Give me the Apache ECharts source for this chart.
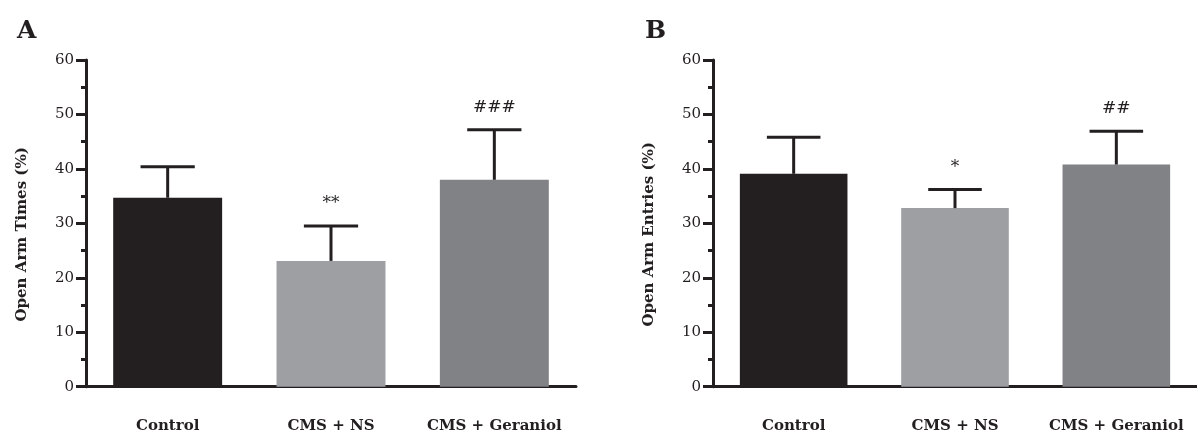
<!DOCTYPE html>
<html>
<head>
<meta charset="utf-8">
<script src="https://cdn.jsdelivr.net/npm/echarts@6/dist/echarts.min.js"></script>
<style>
  html, body { margin: 0; padding: 0; background: #fff; }
  #chart { width: 1197px; height: 436px; }
</style>
</head>
<body>
<div id="chart"></div>
<script>
// ---- data ----
const categories = ['Control', 'CMS + NS', 'CMS + Geraniol'];
const yTicks = [0, 10, 20, 30, 40, 50, 60];

const timesMean = [34.7, 23.1, 38.0];
const timesErrTop = [40.4, 29.5, 47.2];
const timesSig = ['', '**', '###'];

const entriesMean = [39.1, 32.8, 40.8];
const entriesErrTop = [45.8, 36.2, 46.9];
const entriesSig = ['', '*', '##'];

// ---- styles ----
const INK = '#231f20';
const barColors = ['#231f20', '#9e9fa3', '#818286'];
const SERIF = '"DejaVu Serif", "Liberation Serif", serif';

function errRender(params, api) {
  const i = api.value(0);
  const mean = api.value(1);
  const top = api.value(2);
  const sig = api.value(3);
  const pMean = api.coord([i, mean]);
  const pTop = api.coord([i, top]);
  const half = api.size([1, 0])[0] * 0.166;
  const style = { stroke: INK, lineWidth: 3 };
  const children = [
    { type: 'line', shape: { x1: pMean[0], y1: pMean[1], x2: pTop[0], y2: pTop[1] }, style: style },
    { type: 'line', shape: { x1: pTop[0] - half, y1: pTop[1], x2: pTop[0] + half, y2: pTop[1] }, style: style }
  ];
  if (sig) {
    children.push({
      type: 'text',
      style: {
        text: sig, x: pTop[0], y: pTop[1] - 14,
        textAlign: 'center', textVerticalAlign: 'bottom',
        fill: INK, font: '17px ' + SERIF
      }
    });
  }
  return { type: 'group', children: children };
}

function errData(means, tops, sigs) {
  return categories.map((c, i) => [i, means[i], tops[i], sigs[i]]);
}

function barData(means) {
  return means.map((v, i) => ({ value: v, itemStyle: { color: barColors[i] } }));
}

function xAxisCfg(gridIndex) {
  return {
    type: 'category', gridIndex: gridIndex, data: categories,
    axisLine: { lineStyle: { color: INK, width: 3 } },
    axisTick: { alignWithLabel: true, length: 10, lineStyle: { color: INK, width: 3 } },
    axisLabel: { interval: 0, margin: 32, color: INK, fontFamily: SERIF, fontWeight: 'bold', fontSize: 15 }
  };
}

function yAxisCfg(gridIndex, name) {
  return {
    type: 'value', gridIndex: gridIndex, min: 0, max: 60, interval: 10,
    name: name, nameLocation: 'middle', nameRotate: 90, nameGap: 56,
    nameTextStyle: { color: INK, fontFamily: SERIF, fontWeight: 'bold', fontSize: 15, padding: [0, 22, 0, 0] },
    axisLine: { show: true, lineStyle: { color: INK, width: 3 } },
    axisTick: { show: true, length: 10, lineStyle: { color: INK, width: 3 } },
    minorTick: { show: true, splitNumber: 2, length: 5, lineStyle: { color: INK, width: 3 } },
    splitLine: { show: false },
    axisLabel: {
      margin: 12, color: INK, fontFamily: SERIF, fontSize: 15,
      formatter: v => (yTicks.indexOf(v) >= 0 ? String(v) : '')
    }
  };
}

const chart = echarts.init(document.getElementById('chart'), null, { renderer: 'canvas' });
chart.setOption({
  animation: false,
  backgroundColor: '#fff',
  title: [
    { text: 'A', left: 12, top: 14, textStyle: { fontFamily: SERIF, fontWeight: 'bold', fontSize: 25, color: INK } },
    { text: 'B', left: 640, top: 14, textStyle: { fontFamily: SERIF, fontWeight: 'bold', fontSize: 25, color: INK } }
  ],
  grid: [
    { left: 86, top: 60, width: 490, height: 326.7 },
    { left: 713, top: 60, width: 490, height: 326.7 }
  ],
  xAxis: [xAxisCfg(0), xAxisCfg(1)],
  yAxis: [yAxisCfg(0, 'Open Arm Times (%)'), yAxisCfg(1, 'Open Arm Entries (%)')],
  series: [
    { type: 'bar', xAxisIndex: 0, yAxisIndex: 0, barWidth: '66.7%', data: barData(timesMean) },
    { type: 'custom', xAxisIndex: 0, yAxisIndex: 0, renderItem: errRender,
      encode: { x: 0, y: [1, 2] }, data: errData(timesMean, timesErrTop, timesSig), z: 5 },
    { type: 'bar', xAxisIndex: 1, yAxisIndex: 1, barWidth: '66.7%', data: barData(entriesMean) },
    { type: 'custom', xAxisIndex: 1, yAxisIndex: 1, renderItem: errRender,
      encode: { x: 0, y: [1, 2] }, data: errData(entriesMean, entriesErrTop, entriesSig), z: 5 }
  ]
});
</script>
</body>
</html>
